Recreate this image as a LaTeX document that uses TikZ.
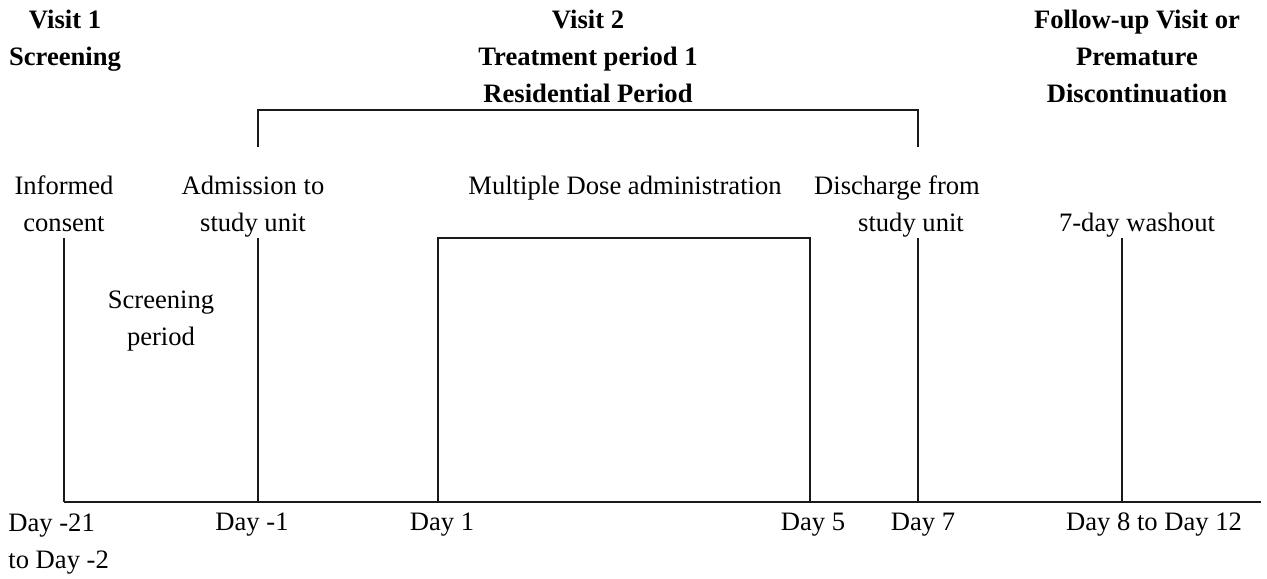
\documentclass[tikz,border=0pt]{standalone}
\usepackage{fontspec}
\setmainfont{Liberation Serif}
\begin{document}
\begin{tikzpicture}[x=0.5pt,y=-0.5pt,
  line/.style={line width=1pt, draw=black!90},
  lbl/.style={font=\fontsize{13.3}{18.5}\selectfont, inner sep=0pt, anchor=base, align=center},
  hdr/.style={lbl, font=\fontsize{13.3}{18.5}\selectfont\bfseries}]
\useasboundingbox (0,0) rectangle (1267,578);
% axis
\coordinate (ax0) at (64,502);
\coordinate (ax1) at (1261,502);
\draw[line] (ax0) -- (ax1);
% tick lines
\coordinate (icTop) at (64,238);
\coordinate (adTop) at (258,238);
\coordinate (adBot) at (258,502);
\coordinate (dsTop) at (918,238);
\coordinate (dsBot) at (918,502);
\coordinate (wsTop) at (1122,238);
\coordinate (wsBot) at (1122,502);
\draw[line] (icTop) -- (ax0);
\draw[line] (adTop) -- (adBot);
\draw[line] (dsTop) -- (dsBot);
\draw[line] (wsTop) -- (wsBot);
% dose box
\coordinate (bxA) at (438,502);
\coordinate (bxB) at (438,238);
\coordinate (bxC) at (810,238);
\coordinate (bxD) at (810,502);
\draw[line] (bxA) -- (bxB) -- (bxC) -- (bxD);
% bracket
\coordinate (brA) at (258,147);
\coordinate (brB) at (258,110);
\coordinate (brC) at (918,110);
\coordinate (brD) at (918,147);
\draw[line] (brA) -- (brB) -- (brC) -- (brD);
% headers (base anchor = last line's baseline)
\node[hdr] (h1) at (65,65) {Visit 1\\Screening};
\node[hdr] (h2) at (588,102) {Visit 2\\Treatment period 1\\Residential Period};
\node[hdr] (h3) at (1137,102) {Follow-up Visit or\\Premature\\Discontinuation};
% event labels
\node[lbl] (ic) at (64,231) {Informed\\consent};
\node[lbl] (ad) at (253,231) {Admission to\\study unit};
\node[lbl] (md) at (625,194) {Multiple Dose administration};
\node[lbl] (ds1) at (897,194) {Discharge from};
\node[lbl] (ds2) at (911,231) {study unit};
\node[lbl] (ws) at (1137,231) {7-day washout};
\node[lbl] (sp) at (161,345) {Screening\\period};
% day labels
\node[lbl, anchor=base west, align=left] (d21) at (8,568) {Day -21\\to Day -2};
\node[lbl] (dm1) at (252,530) {Day -1};
\node[lbl] (d1) at (442,530) {Day 1};
\node[lbl] (d5) at (813,530) {Day 5};
\node[lbl] (d7) at (923,530) {Day 7};
\node[lbl] (d8) at (1154,530) {Day 8 to Day 12};
\end{tikzpicture}
\end{document}
